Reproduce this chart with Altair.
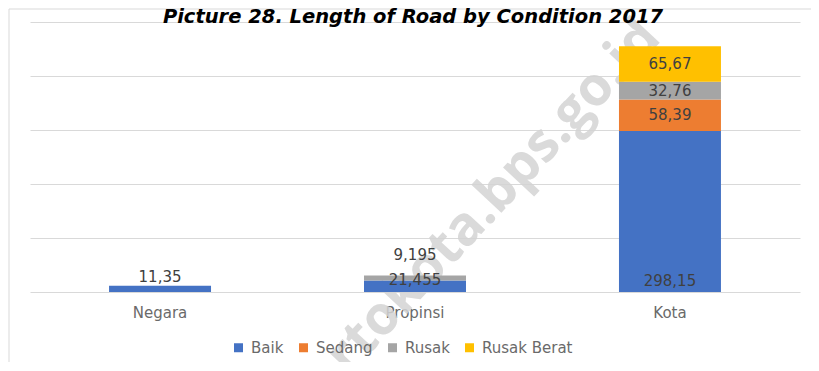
import altair as alt
import pandas as pd

categories = ["Negara", "Propinsi", "Propinsi", "Kota", "Kota", "Kota", "Kota"]
conditions = ["Baik", "Baik", "Rusak", "Baik", "Sedang", "Rusak", "Rusak Berat"]
values = [11.35, 21.455, 9.195, 298.15, 58.39, 32.76, 65.67]
labels = ["11,35", "21,455", "9,195", "298,15", "58,39", "32,76", "65,67"]
cond_order = ["Baik", "Sedang", "Rusak", "Rusak Berat"]
cond_colors = ["#4472C4", "#ED7D31", "#A5A5A5", "#FFC000"]
cat_order = ["Negara", "Propinsi", "Kota"]
title_text = "Picture 28. Length of  Road by  Condition 2017"
watermark = "mojokertokota.bps.go.id"

df = pd.DataFrame({
    "cat": categories,
    "cond": conditions,
    "value": values,
    "label": labels,
    "order": [cond_order.index(c) for c in conditions],
})

FONT = "DejaVu Sans"
TFONT = "Open Sans"
GREY = "#6a6a6a"
x_enc = alt.X("cat:N", sort=cat_order, title=None,
              scale=alt.Scale(paddingInner=0.6, paddingOuter=0.31),
              axis=alt.Axis(labelFontSize=15, labelColor=GREY, labelFont=FONT,
                            domain=False, ticks=False, labelPadding=13, labelAngle=0))
y_scale = alt.Scale(domain=[0, 500])

base = alt.Chart(df).transform_stack(
    stack="value", groupby=["cat"], as_=["y0", "y1"],
    sort=[alt.SortField("order", order="ascending")]
).transform_calculate(mid="(datum.y0 + datum.y1) / 2")

wm = alt.Chart(pd.DataFrame({"t": [watermark]})).mark_text(
    font=TFONT, fontSize=54, fontWeight="bold", angle=313, color="#d4d4d4",
    opacity=0.85, align="center", baseline="middle"
).encode(x=alt.value(395), y=alt.value(249), text="t:N")

title = alt.Chart(pd.DataFrame({"t": [title_text]})).mark_text(
    font="DejaVu Sans", fontSize=19.5, fontWeight="bold", fontStyle="italic", color="#000000",
    align="center", baseline="alphabetic"
).encode(x=alt.value(383), y=alt.value(0.5), text="t:N")

bars = base.mark_bar().encode(
    x=x_enc,
    y=alt.Y("y0:Q", scale=y_scale, title=None,
            axis=alt.Axis(values=[0, 100, 200, 300, 400, 500], labels=False, ticks=False,
                          domain=False, grid=True, gridColor="#d9d9d9", gridWidth=1)),
    y2="y1:Q",
    color=alt.Color("cond:N", sort=cond_order,
                    scale=alt.Scale(domain=cond_order, range=cond_colors),
                    legend=alt.Legend(title=None, orient="none", direction="horizontal",
                                      legendX=201, legendY=318, symbolType="square",
                                      symbolSize=81, symbolStrokeWidth=0,
                                      labelFontSize=15, labelColor=GREY, labelFont=FONT,
                                      columnPadding=12, labelOffset=5, padding=0)),
)

def lab(filt, ycol, dy):
    return base.transform_filter(filt).mark_text(
        font=FONT, fontSize=15, color="#404040", baseline="middle", dy=dy
    ).encode(x=alt.X("cat:N", sort=cat_order), y=alt.Y(f"{ycol}:Q", scale=y_scale), text="label:N")

l1 = lab("datum.cat == 'Kota' && datum.cond != 'Baik'", "mid", 0)
l2 = lab("datum.cat == 'Kota' && datum.cond == 'Baik'", "y0", -11)
l3 = lab("datum.cat == 'Negara'", "y1", -9)
l4 = lab("datum.cat == 'Propinsi' && datum.cond == 'Baik'", "y1", 0)
l5 = lab("datum.cat == 'Propinsi' && datum.cond == 'Rusak'", "y1", -20)

frame = alt.Chart(pd.DataFrame({"t": [0]})).mark_rect(
    fill="transparent", stroke="#d9d9d9", strokeWidth=1
).encode(x=alt.value(-21), x2=alt.value(800), y=alt.value(-13), y2=alt.value(347))

chart = alt.layer(wm, frame, bars, l1, l2, l3, l4, l5, title).properties(
    width=770, height=270,
    autosize=alt.AutoSizeParams(type="none"),
    padding={"left": 22, "top": 14, "right": 11, "bottom": 70},
).resolve_scale(x="shared").configure_view(stroke=None)

chart.save("out.html", embed_options={"renderer": "svg", "actions": False})
